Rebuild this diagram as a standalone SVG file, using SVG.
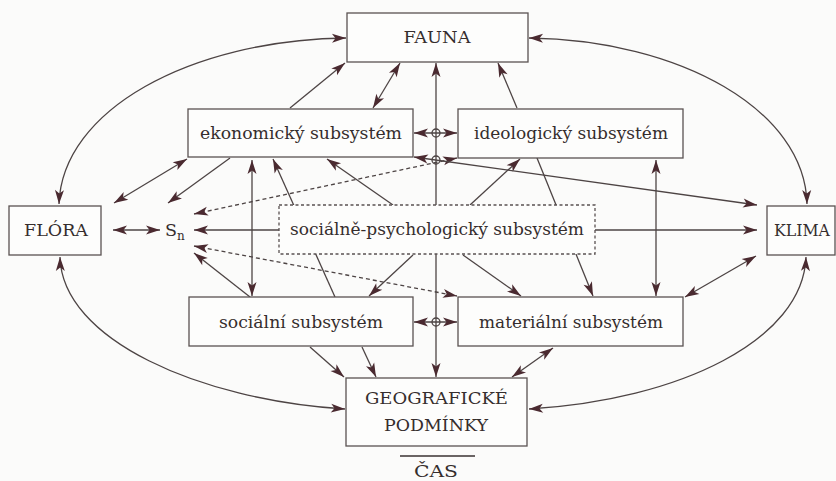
<svg xmlns="http://www.w3.org/2000/svg" width="836" height="481" viewBox="0 0 836 481">
<defs>
<marker id="ah" markerUnits="userSpaceOnUse" markerWidth="16" markerHeight="10" refX="14" refY="4.5" orient="auto-start-reverse" viewBox="0 0 16 10" overflow="visible">
<path d="M0,0 L14,4.5 L0,9 L3.5,4.5 z" fill="#4a2a30"/>
</marker>
<style>
.bg{fill:#fbfbfa}
.box{fill:#fdfdfc;stroke:#5a5252;stroke-width:1.3}
.dbox{fill:#fdfdfc;stroke:#5a5252;stroke-width:1.3;stroke-dasharray:3 2.5}
.t{font-family:"DejaVu Serif","Liberation Serif",serif;font-size:17.5px;fill:#352d2d}
.c{fill:none;stroke:#4d4444;stroke-width:1.3}
.d{fill:none;stroke:#4d4444;stroke-width:1.3;stroke-dasharray:4 3}
.e{marker-end:url(#ah)}
.b{marker-start:url(#ah);marker-end:url(#ah)}
</style>
</defs>
<rect class="bg" x="0" y="0" width="836" height="481"/>
<g id="connectors">
<path class="c b" d="M346 38 C190 40 62 110 59 204"/>
<path class="c b" d="M529 38 C680 40 805 110 807 204"/>
<path class="c b" d="M60 257 C62 340 200 400 345 409"/>
<path class="c b" d="M806 257 C803 340 680 400 529 409"/>
<path class="c b" d="M436 63 L436 377"/>
<path class="c b" d="M414 133 L457 133"/>
<path class="c b" d="M414 322 L457 322"/>
<path class="c e" d="M290 108 L345 63"/>
<path class="c b" d="M373 108 L400 63"/>
<path class="c e" d="M517 108 L498 63"/>
<path class="c b" d="M114 203 L187 159"/>
<path class="c e" d="M230 158 L168 203"/>
<path class="c b" d="M113 230 L160 230"/>
<path class="c e" d="M279 230 L194 230"/>
<path class="d b" d="M194 214 L457 158"/>
<path class="d b" d="M194 246 L457 296"/>
<path class="c e" d="M250 297 L194 253"/>
<path class="c b" d="M252 160 L252 296"/>
<path class="c e" d="M335 297 L273 159"/>
<path class="c e" d="M393 205 L327 159"/>
<path class="c e" d="M470 205 L520 159"/>
<path class="c e" d="M537 158 L593 296"/>
<path class="c e" d="M413 255 L369 296"/>
<path class="c e" d="M463 255 L521 296"/>
<path class="c e" d="M595 230 L757 230"/>
<path class="c b" d="M414 157 L757 205"/>
<path class="c b" d="M656 160 L656 296"/>
<path class="c b" d="M685 297 L756 256"/>
<path class="c e" d="M310 347 L344 377"/>
<path class="c e" d="M362 347 L376 377"/>
<path class="c b" d="M553 348 L512 377"/>
<circle class="c" cx="436" cy="133" r="4"/>
<circle class="c" cx="436" cy="160" r="4"/>
<circle class="c" cx="436" cy="322" r="4"/>
</g>
<g id="fauna"><rect class="box" x="347" y="13" width="181" height="49"/><text class="t" x="437" y="43" text-anchor="middle" textLength="67" lengthAdjust="spacingAndGlyphs">FAUNA</text></g>
<g id="ekonomicky"><rect class="box" x="188" y="109" width="225" height="48"/><text class="t" x="301" y="139" text-anchor="middle" textLength="202" lengthAdjust="spacingAndGlyphs">ekonomický subsystém</text></g>
<g id="ideologicky"><rect class="box" x="458" y="109" width="225" height="49"/><text class="t" x="571" y="139" text-anchor="middle" textLength="194" lengthAdjust="spacingAndGlyphs">ideologický subsystém</text></g>
<g id="flora"><rect class="box" x="9" y="206" width="92" height="49"/><text class="t" x="56" y="236" text-anchor="middle" textLength="64" lengthAdjust="spacingAndGlyphs">FLÓRA</text></g>
<g id="sn"><text class="t" x="165" y="236">S<tspan font-size="12" dy="4">n</tspan></text></g>
<g id="socpsych"><rect class="dbox" x="279" y="205" width="316" height="49"/><text class="t" x="437" y="235" text-anchor="middle" textLength="294" lengthAdjust="spacingAndGlyphs">sociálně-psychologický subsystém</text></g>
<g id="klima"><rect class="box" x="767" y="206" width="68" height="49"/><text class="t" x="774" y="236" textLength="56" lengthAdjust="spacingAndGlyphs">KLIMA</text></g>
<g id="socialni"><rect class="box" x="189" y="297" width="224" height="49"/><text class="t" x="301" y="328" text-anchor="middle" textLength="164" lengthAdjust="spacingAndGlyphs">sociální subsystém</text></g>
<g id="materialni"><rect class="box" x="458" y="297" width="225" height="49"/><text class="t" x="571" y="328" text-anchor="middle" textLength="184" lengthAdjust="spacingAndGlyphs">materiální subsystém</text></g>
<g id="geograficke"><rect class="box" x="346" y="378" width="181" height="68"/><text class="t" x="436.5" y="404" text-anchor="middle" textLength="143" lengthAdjust="spacingAndGlyphs">GEOGRAFICKÉ</text><text class="t" x="436" y="431" text-anchor="middle" textLength="104" lengthAdjust="spacingAndGlyphs">PODMÍNKY</text></g>
<g id="cas"><line x1="400" y1="456" x2="475" y2="456" stroke="#3a3232" stroke-width="1.6"/><text class="t" x="436" y="477" text-anchor="middle" textLength="44" lengthAdjust="spacingAndGlyphs">ČAS</text></g>
</svg>
